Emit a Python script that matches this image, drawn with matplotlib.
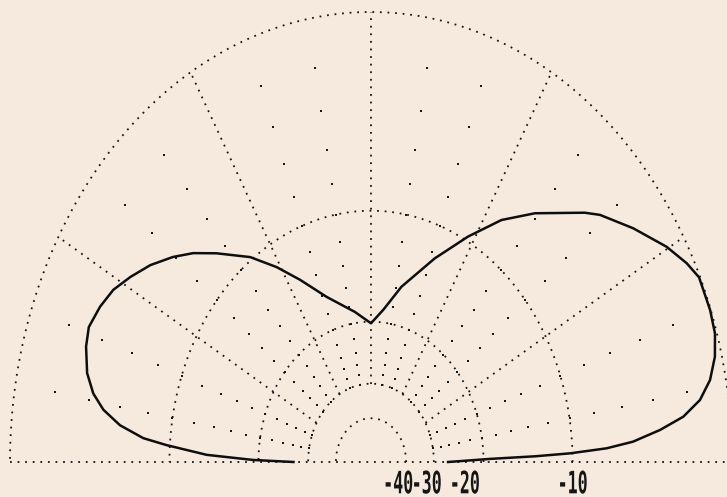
import numpy as np
import matplotlib
matplotlib.use("Agg")
import matplotlib.pyplot as plt
from matplotlib import patheffects
from matplotlib.transforms import Affine2D

# elevation pattern (angle in degrees, level in dB)
angle_deg = [0.0, 1.2, 1.6, 2.0, 2.67, 3.56, 5.08, 6.64, 8.6, 10.98, 13.8,
             16.7, 19.78, 24.3, 26.79, 30.28, 35.55, 40.87, 43.1, 50.6, 56.1,
             61.8, 68.7, 77.8, 84.2, 90.0, 97.6, 108.5, 115.9, 121.1, 126.3,
             132.7, 136.7, 140.3, 144.4, 148.3, 151.8, 155.3, 159.0, 162.0,
             165.9, 168.8, 171.1, 173.3, 175.2, 176.2, 178.0, 179.2, 180.0]
level_db = [-26.5, -19.0, -13.5, -10.2, -7.3, -5.47, -3.75, -2.37, -1.40,
            -0.76, -0.33, -0.09, -0.03, -0.05, -0.35, -0.91, -1.94, -3.01,
            -3.6, -5.75, -7.45, -9.7, -12.4, -15.8, -18.5, -20.2, -18.7,
            -16.3, -13.7, -11.7, -9.8, -7.9, -6.7, -5.8, -4.9, -4.2, -3.62,
            -3.28, -3.05, -3.2, -3.6, -4.17, -4.93, -6.12, -7.85, -9.7,
            -13.5, -19.2, -26.4]

ring_db = [0, -10, -20, -30, -40]
ring_labels = ["-40", "-30", "-20", "-10"]
label_db = [-40, -30, -20, -10]
spoke_deg = [30, 60, 90, 120, 150]
minor_deg = [10, 20, 40, 50, 70, 80, 100, 110, 130, 140, 160, 170]
minor_db = [-2, -4, -6, -8, -10, -12, -14, -16, -18, -20, -22, -24, -26, -28, -30]


def radius(db):
    # ARRL log-periodic scale, 0.89 per 2 dB
    db = np.clip(np.asarray(db, dtype=float), -40, 0)
    return 0.89 ** (-db / 2.0)


class Stretch(patheffects.AbstractPathEffect):
    # tall narrow digits like the plotter font
    def __init__(self, sy):
        super().__init__()
        self.sy = sy

    def draw_path(self, renderer, gc, tpath, affine, rgbFace=None):
        ext = tpath.get_extents(affine)
        cy = 0.5 * (ext.y0 + ext.y1)
        st = Affine2D().translate(0, -cy).scale(1, self.sy).translate(0, cy)
        renderer.draw_path(gc, tpath, affine + st, rgbFace)


BG = '#f6eadf'
INK = '#161616'
DOTS = dict(color=INK, linewidth=1.3, linestyle=(0, (1, 3.2)), dash_capstyle='butt')

fig = plt.figure(figsize=(7.27, 4.97), dpi=100, facecolor=BG)
ax = fig.add_axes([0, 0, 1, 1])
ax.set_facecolor(BG)
ax.axis('off')
ax.set_xlim(-371 / 361, 356 / 361)
ax.set_ylim(-35 / 450, 462 / 450)

t = np.radians(np.linspace(0, 180, 400))

# rings
for db in ring_db:
    r = radius(db)
    ax.plot(r * np.cos(t), r * np.sin(t), **DOTS)

# baseline
ax.plot([-1.0, 1.2], [0, 0], **DOTS)

# spokes every 30 deg, from the -30 dB ring outwards
r_in = radius(-30)
for a in spoke_deg:
    th = np.radians(a)
    ax.plot([r_in * np.cos(th), np.cos(th)], [r_in * np.sin(th), np.sin(th)], **DOTS)

# 2 dB dots on the 10 deg directions
for a in minor_deg:
    th = np.radians(a)
    rr = radius(minor_db)
    ax.plot(rr * np.cos(th), rr * np.sin(th), 's', color=INK, markersize=1.7,
            markeredgewidth=0, linestyle='none')

# pattern
th = np.radians(angle_deg)
rp = radius(level_db)
ax.plot(rp * np.cos(th), rp * np.sin(th), color='#0e0e0e', linewidth=1.8,
        solid_joinstyle='round')

# scale labels
nudge = [-0.022, -0.02, -0.052, 0.0]
for lab, db, dx in zip(ring_labels, label_db, nudge):
    ax.text(radius(db) + dx, -0.047, lab, ha='center', va='center',
            fontsize=12, fontweight='bold', family='DejaVu Sans Mono',
            color=INK, path_effects=[Stretch(1.85)])

fig.savefig('out.png', dpi=100, facecolor=BG)
